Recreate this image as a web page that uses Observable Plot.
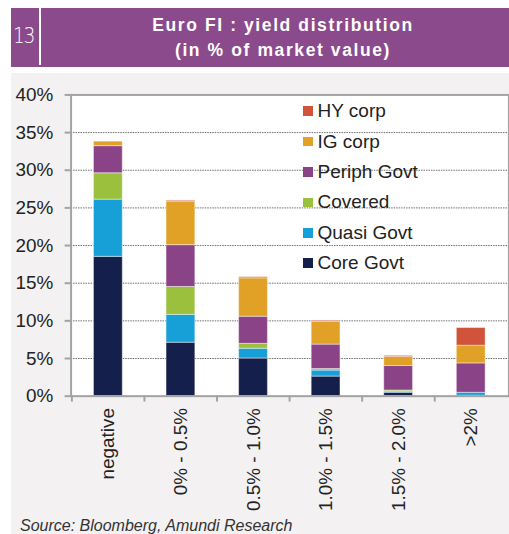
<!DOCTYPE html>
<html>
<head>
<meta charset="utf-8">
<script src="https://cdn.jsdelivr.net/npm/d3@7"></script>
<script src="https://cdn.jsdelivr.net/npm/@observablehq/plot@0.6"></script>
<style>
  html, body { margin: 0; padding: 0; width: 509px; height: 534px; overflow: hidden; background: #ffffff; font-family: "Liberation Sans", Arial, sans-serif; }
  #header { position: absolute; left: 11px; top: 8px; width: 498px; height: 59px; background: #8b4a8c; }
  #num { position: absolute; left: 13px; top: 22px; color: #fff; font-family: "DejaVu Sans", sans-serif; font-weight: 200; font-size: 22px; line-height: 28px; letter-spacing: -1.5px; transform: scaleX(0.85); transform-origin: left center; }
  #vline { position: absolute; left: 39px; top: 8px; width: 1.5px; height: 57px; background: #fff; }
  #title { position: absolute; left: 44px; top: 8px; width: 478px; height: 59px; color: #fff; font-weight: bold; font-size: 17.5px; letter-spacing: 1.6px; text-align: center; line-height: 25px; padding-top: 5px; box-sizing: border-box; }
  #panel { position: absolute; left: 11px; top: 73px; right: 0; bottom: 0; background: #f3f1f2; }
  #chart { position: absolute; left: 0; top: 0; }
  #legend { position: absolute; left: 303px; top: 96px; }
  .li { height: 30.4px; display: flex; align-items: center; font-size: 19px; color: #222; }
  .sw { width: 9.5px; height: 9.5px; margin-right: 5px; }
  #source { position: absolute; left: 20px; top: 517px; font-size: 16px; font-style: italic; color: #333; white-space: nowrap; }
</style>
</head>
<body>
<div id="header"></div>
<div id="num">13</div>
<div id="vline"></div>
<div id="title">Euro FI : yield distribution<br>(in % of market value)</div>
<div id="panel"></div>
<div id="chart"></div>
<div id="legend"></div>
<div id="source">Source: Bloomberg, Amundi Research</div>
<script>
const categories = ["negative", "0% - 0.5%", "0.5% - 1.0%", "1.0% - 1.5%", "1.5% - 2.0%", ">2%"];
const seriesNames = ["Core Govt", "Quasi Govt", "Covered", "Periph Govt", "IG corp", "HY corp"];
const seriesColors = ["#151f4c", "#17a0d8", "#9ac03e", "#8b4388", "#e0a126", "#d0533a"];
const coreGovt   = [18.5, 7.1, 5.0, 2.6, 0.45, 0.05];
const quasiGovt  = [7.6, 3.7, 1.3, 0.8, 0.15, 0.4];
const covered    = [3.5, 3.7, 0.65, 0.2, 0.15, 0.0];
const periphGovt = [3.6, 5.55, 3.6, 3.25, 3.25, 3.9];
const igCorp     = [0.6, 5.8, 5.1, 3.0, 1.2, 2.35];
const hyCorp     = [0.0, 0.1, 0.15, 0.15, 0.15, 2.35];
const yTicks = [0, 5, 10, 15, 20, 25, 30, 35, 40];

const seriesValues = [coreGovt, quasiGovt, covered, periphGovt, igCorp, hyCorp];
const rows = [];
seriesNames.forEach((s, si) => categories.forEach((c, ci) => rows.push({category: c, series: s, value: seriesValues[si][ci]})));

const W = 512, ML = 71, MR = 0.6;
const step = (W - ML - MR) / categories.length;
const axisColor = "#a3a3a3";

const chart = Plot.plot({
  width: W,
  height: 534,
  marginLeft: ML,
  marginRight: MR,
  marginTop: 95,
  marginBottom: 136,
  style: {background: "transparent", fontFamily: "'Liberation Sans', Arial, sans-serif", fontSize: "19px", color: "#222"},
  x: {domain: categories, paddingInner: 0.6, paddingOuter: 0.3, label: null},
  y: {domain: [0, 40], label: null},
  color: {domain: seriesNames, range: seriesColors},
  marks: [
    Plot.frame({fill: "white", stroke: "none"}),
    Plot.gridY(yTicks.filter(t => t > 0 && t < 40), {stroke: "#6e6e6e", strokeOpacity: 1, strokeWidth: 1, strokeDasharray: "1.5,1"}),
    Plot.barY(rows, {x: "category", y: "value", fill: "series", stroke: "white", strokeOpacity: 0.45, strokeWidth: 1, order: seriesNames}),
    Plot.frame({stroke: axisColor, strokeWidth: 2}),
    Plot.axisY({ticks: yTicks, tickFormat: d => d + "%", tickSize: 6, tickPadding: 12, stroke: axisColor, strokeWidth: 2, fill: "#222", fontSize: 19}),
    Plot.axisX({tickSize: 6, tickFormat: () => "", dx: -step / 2, stroke: axisColor, strokeWidth: 2}),
    Plot.axisX({tickSize: 0, tickPadding: 12, tickRotate: -90, fill: "#222", fontSize: 19})
  ]
});
document.getElementById("chart").appendChild(chart);

const legend = document.getElementById("legend");
for (let i = seriesNames.length - 1; i >= 0; i--) {
  const li = document.createElement("div");
  li.className = "li";
  li.innerHTML = `<span class="sw" style="background:${seriesColors[i]}"></span><span>${seriesNames[i]}</span>`;
  legend.appendChild(li);
}
</script>
</body>
</html>
